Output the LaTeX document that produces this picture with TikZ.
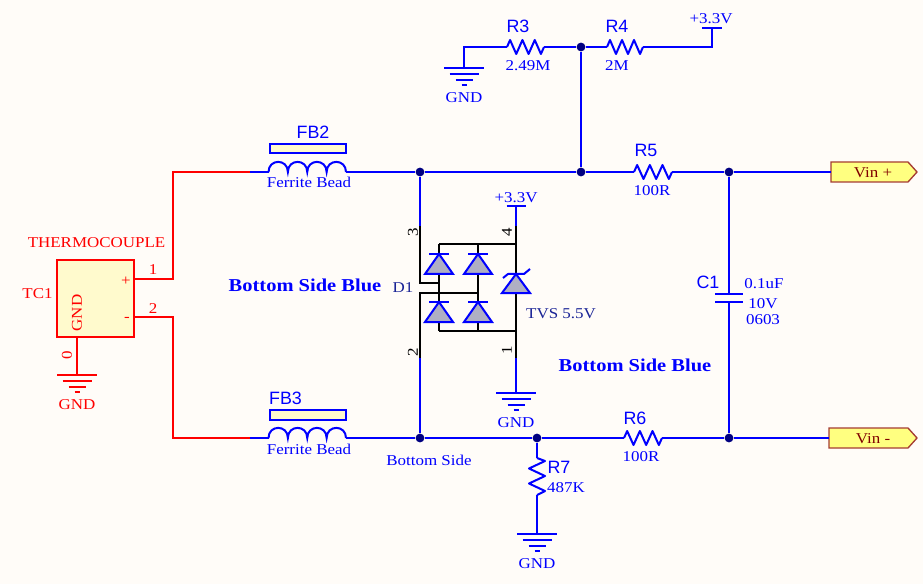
\documentclass[tikz,border=0pt]{standalone}
\usepackage{fontspec}
\setmainfont{Liberation Serif}
\newfontfamily\srf[FakeStretch=1.13]{Liberation Serif}
\newfontfamily\arf{Liberation Sans}
\definecolor{bgc}{RGB}{255,252,248}
\definecolor{wireb}{RGB}{0,0,255}
\definecolor{wirer}{RGB}{255,0,0}
\definecolor{junc}{RGB}{0,0,128}
\definecolor{diof}{RGB}{175,175,195}
\definecolor{symf}{RGB}{255,250,205}
\definecolor{portf}{RGB}{255,255,128}
\definecolor{portb}{RGB}{165,60,50}
\definecolor{portt}{RGB}{128,0,0}
\definecolor{navyt}{RGB}{25,35,150}
\tikzset{
  wire/.style={draw=wireb,line width=1.5pt,line join=miter},
  rwire/.style={draw=wirer,line width=1.5pt},
  kwire/.style={draw=black,line width=1.5pt},
  junct/.style={circle,fill=junc,draw=none,inner sep=0pt,minimum size=6.6pt},
  txt/.style={inner sep=0pt,font=\srf\fontsize{11.25}{12}\selectfont,text=wireb},
  refd/.style={inner sep=0pt,font=\arf\fontsize{13.4}{14}\selectfont,text=wireb},
  boldt/.style={inner sep=0pt,font=\srf\bfseries\fontsize{13.6}{14}\selectfont,text=wireb},
  pinno/.style={txt,text=black,rotate=90},
  diode/.style={draw=wireb,fill=diof,line width=1.5pt,line join=miter},
  port/.style={draw=portb,fill=portf,line width=1pt},
  portl/.style={txt,text=portt},
}
% horizontal resistor: name, x, y, length
\newcommand{\resh}[4]{%
  \coordinate (#1a) at (#2,#3);
  \coordinate (#1b) at ({#2+#4},#3);
  \draw[wire,line join=round] (#1a) -- ++({.083*#4},-7) -- ++({.167*#4},14) -- ++({.167*#4},-14) -- ++({.166*#4},14) -- ++({.167*#4},-14) -- ++({.167*#4},14) -- (#1b);}
% ground symbol: name, x, y of top bar, colour
\newcommand{\gndsym}[4]{%
  \coordinate (#1) at (#2,#3);
  \draw[draw=#4,line width=1.5pt]
    ({#2-20},#3) -- ({#2+20},#3)
    ({#2-14.5},{#3+6}) -- ({#2+14.5},{#3+6})
    ({#2-8.5},{#3+12}) -- ({#2+8.5},{#3+12})
    ({#2-2.5},{#3+17}) -- ({#2+2.5},{#3+17});
  \node[txt,text=#4] (#1t) at (#2,{#3+29.5}) {GND};}
% ferrite bead: name, y of wire, y of box top
\newcommand{\bead}[3]{%
  \coordinate (#1a) at (268.5,#2);
  \coordinate (#1b) at (346,#2);
  \draw[wire] (#1a) \foreach \k in {0,1,2,3} {.. controls ({268.5+19.375*\k},{#2-13.5}) and ({268.5+19.375*(\k+1)},{#2-13.5}) .. ({268.5+19.375*(\k+1)},#2)};
  \node[draw=wireb,fill=symf,line width=1.5pt,inner sep=0pt,minimum width=57.5pt,minimum height=7.2pt,anchor=north west] (#1box) at (268.5,#3) {};}
% diode: x, y of the cathode bar
\newcommand{\dio}[2]{%
  \draw[diode] (#1,#2) -- ({#1+14},{#2+20}) -- ({#1-14},{#2+20}) -- cycle;
  \draw[wire] ({#1-10},#2) -- ({#1+10},#2);}
\begin{document}
\begin{tikzpicture}[x=.75pt,y=-.75pt]
\useasboundingbox (0,0) rectangle (923,584);
\fill[bgc] (0,0) rectangle (923,584);

% junctions
\node[junct] (j1) at (420,172) {};
\node[junct] (j2) at (581,172) {};
\node[junct] (j3) at (729,172) {};
\node[junct] (j4) at (581,47) {};
\node[junct] (j5) at (420,438) {};
\node[junct] (j6) at (537,438) {};
\node[junct] (j7) at (729,438) {};

% thermocouple
\node[draw=wirer,fill=symf,line width=1.5pt,inner sep=0pt,minimum width=57.5pt,minimum height=57.5pt] (tc) at (95.75,298.5) {};
\coordinate (tcp) at (134,279);
\coordinate (tcm) at (134,317);
\coordinate (tcg) at (77,337);
\coordinate (rt1) at (173,279);
\coordinate (rt2) at (173,172);
\coordinate (rb1) at (173,317);
\coordinate (rb2) at (173,438);
\coordinate (fb2w) at (250,172);
\coordinate (fb3w) at (250,438);
\draw[rwire] (tcp) -- (rt1) -- (rt2) -- (fb2w);
\draw[rwire] (tcm) -- (rb1) -- (rb2) -- (fb3w);
\gndsym{gtc}{77}{375}{wirer}
\draw[rwire] (tcg) -- (gtc);
\node[txt,text=wirer] (tcn) at (96.5,243) {THERMOCOUPLE};
\node[txt,text=wirer] (tcr) at (37.5,294) {TC1};
\node[txt,text=wirer,rotate=90] (tcgl) at (77,313) {GND};
\node[txt,text=wirer] (tcpl) at (126,281) {+};
\node[txt,text=wirer] (tcml) at (127,319) {-};
\node[txt,text=wirer] (tc1) at (153,270) {1};
\node[txt,text=wirer] (tc2) at (153,309) {2};
\node[txt,text=wirer,rotate=90] (tc0) at (67,355) {0};

% beads
\bead{fbt}{172}{142.7}
\bead{fbb}{438}{409}
\draw[wire] (fb2w) -- (fbta);
\draw[wire] (fb3w) -- (fbba);
\draw[wire] (fbtb) -- (j1);
\draw[wire] (fbbb) -- (j5);
\node[refd] (fb2l) at (313,132.5) {FB2};
\node[refd] (fb3l) at (285.5,398) {FB3};
\node[txt] (fb2v) at (309,182) {Ferrite Bead};
\node[txt] (fb3v) at (309,449) {Ferrite Bead};
\node[txt,font=\srf\fontsize{11.25}{12}\selectfont] (bs) at (429,460) {Bottom Side};

% top divider
\resh{rc}{507}{47}{37}
\resh{rd}{607}{47}{36}
\coordinate (g3c) at (464,47);
\coordinate (v3c) at (712,47);
\coordinate (v3b) at (712,28);
\gndsym{g3}{464}{68}{wireb}
\draw[wire] (g3) -- (g3c) -- (rca);
\draw[wire] (rcb) -- (j4) -- (rda);
\draw[wire] (rdb) -- (v3c) -- (v3b);
\draw[wire] (702,28) -- (722,28);
\node[txt] (v3t) at (711,19) {+3.3V};
\node[refd] (r3l) at (518,26) {R3};
\node[refd] (r4l) at (617,26) {R4};
\node[txt] (r3v) at (528,66) {2.49M};
\node[txt] (r4v) at (617,66) {2M};
\draw[wire] (j4) -- (j2);

% main rails
\resh{re}{634}{172}{38}
\resh{rf}{624}{438}{38}
\draw[wire] (j1) -- (j2) -- (rea);
\draw[wire] (reb) -- (j3);
\draw[wire] (j5) -- (j6) -- (rfa);
\draw[wire] (rfb) -- (j7);
\node[refd] (r5l) at (646,150) {R5};
\node[txt] (r5v) at (652,191) {100R};
\node[refd] (r6l) at (635,418) {R6};
\node[txt] (r6v) at (641,457) {100R};

% capacitor
\coordinate (cpa) at (729,294);
\coordinate (cpb) at (729,302);
\draw[wire] (j3) -- (cpa);
\draw[wire] (j7) -- (cpb);
\draw[wire] (715,294) -- (743,294);
\draw[wire] (715,302) -- (743,302);
\node[refd] (c1l) at (708,282) {C1};
\node[txt] (c1a) at (764,284) {0.1uF};
\node[txt] (c1b) at (763,304) {10V};
\node[txt] (c1c) at (763,320) {0603};

% R7
\coordinate (r7a) at (537,458);
\coordinate (r7b) at (537,495);
\draw[wire] (j6) -- (r7a);
\draw[wire,line join=round] (r7a) -- (545,461) -- (529,468.5) -- (545,476) -- (529,483.5) -- (545,491) -- (r7b);
\gndsym{g7}{537}{534}{wireb}
\draw[wire] (r7b) -- (g7);
\node[refd] (r7l) at (559,467) {R7};
\node[txt] (r7v) at (566,488) {487K};

% ports
\coordinate (pp) at (831,172);
\coordinate (pm) at (829,438);
\draw[port] (831,162) -- (908,162) -- (917,172) -- (908,182) -- (831,182) -- cycle;
\draw[port] (829,428) -- (908,428) -- (917,438) -- (908,448) -- (829,448) -- cycle;
\draw[wire] (j3) -- (pp);
\draw[wire] (j7) -- (pm);
\node[portl] (ppl) at (873,172.5) {Vin +};
\node[portl] (pml) at (873,438.5) {Vin -};

% D1 package
\coordinate (d3) at (420,226);
\coordinate (d2) at (420,358);
\coordinate (d3i) at (420,283);
\coordinate (d2i) at (420,293);
\coordinate (d4) at (516,226);
\coordinate (d1) at (516,358);
\draw[wire] (j1) -- (d3);
\draw[wire] (j5) -- (d2);
\draw[wire] (d4) -- (516,206);
\draw[wire] (506.5,206) -- (526,206);
\gndsym{gd}{516}{393}{wireb}
\draw[wire] (d1) -- (gd);
\draw[kwire] (d3) -- (d3i) -- (439,283);
\draw[kwire] (d2) -- (d2i) -- (478,293);
\draw[kwire] (439,244) -- (439,331);
\draw[kwire] (478,244) -- (478,331);
\draw[kwire] (439,331) -- (516,331);
\draw[kwire] (439,244) -- (516,244);
\draw[kwire] (d4) -- (d1);
\dio{439}{254}
\dio{478}{254}
\dio{439}{302}
\dio{478}{302}
\draw[diode] (516,274) -- (530,293) -- (502,293) -- cycle;
\draw[wire,line join=round] (503,278) -- (508,274) -- (524,274) -- (530,269);
\node[pinno] (p3) at (413,232) {3};
\node[pinno] (p4) at (507,232) {4};
\node[pinno] (p2) at (413,352) {2};
\node[pinno] (p1) at (507,350) {1};
\node[txt,text=navyt] (d1l) at (403,288) {D1};
\node[txt,text=navyt] (tvs) at (561,314) {TVS 5.5V};
\node[txt] (v3d) at (516,198) {+3.3V};

% notes
\node[boldt] (n1) at (305,285) {Bottom Side Blue};
\node[boldt] (n2) at (635,365) {Bottom Side Blue};
\end{tikzpicture}
\end{document}
